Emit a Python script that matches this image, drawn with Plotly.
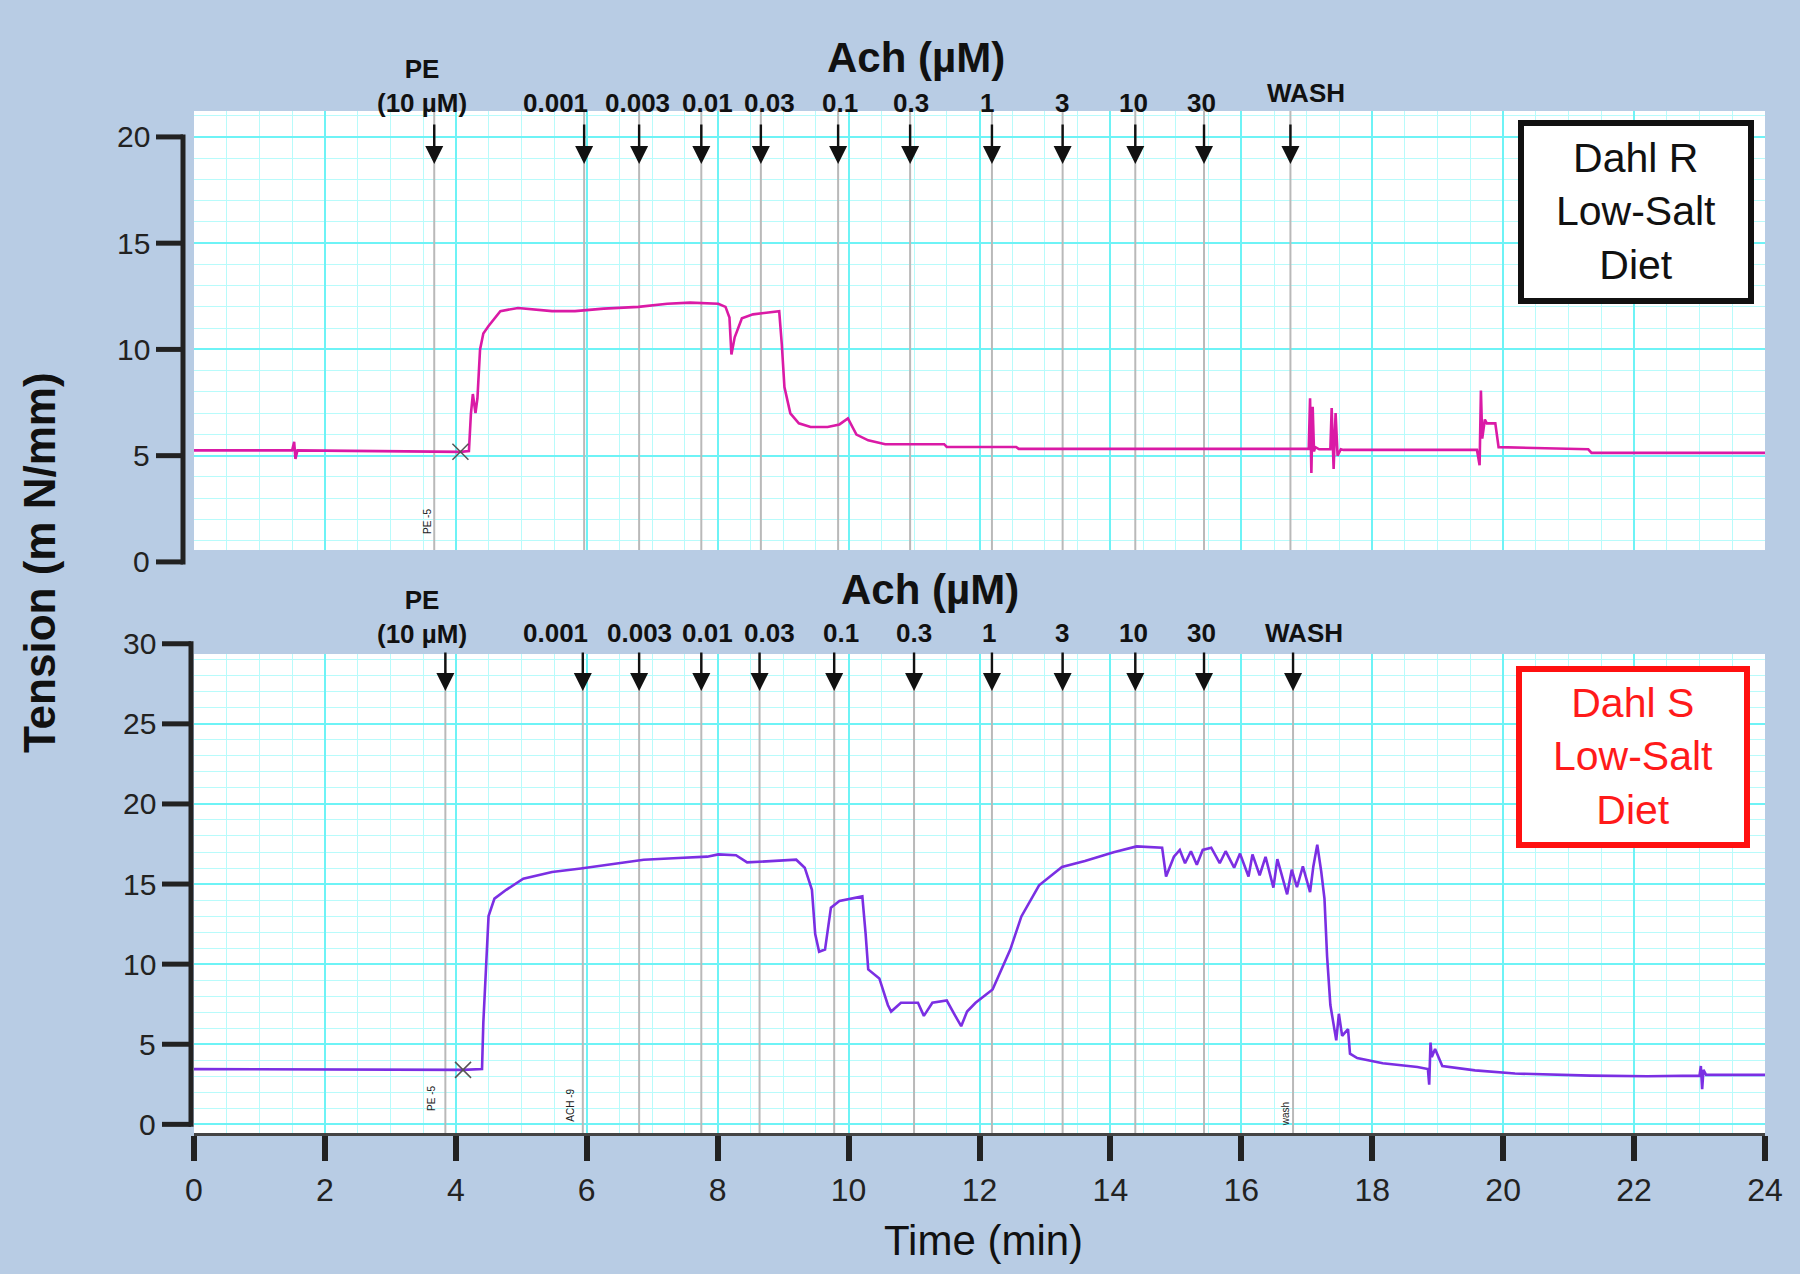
import plotly.graph_objects as go

W, H = 1800, 1274

# ---------------- data ----------------
top_t = [0.0, 1.50, 1.53, 1.55, 1.58, 3.0, 4.07, 4.20, 4.23, 4.26, 4.30, 4.33, 4.37, 4.42, 4.50,
         4.68, 4.95, 5.47, 5.82, 6.26, 6.79, 7.23, 7.58, 8.01, 8.12, 8.18, 8.21, 8.26, 8.37, 8.54,
         8.80, 8.94, 8.98, 9.02, 9.11, 9.24, 9.42, 9.68, 9.86, 9.99, 10.12, 10.30, 10.56, 11.46,
         11.50, 12.56, 12.60, 17.03, 17.05, 17.07, 17.09, 17.11, 17.13, 17.19, 17.36, 17.38, 17.41,
         17.44, 17.47, 17.52, 17.56, 19.60, 19.64, 19.66, 19.68, 19.72, 19.75, 19.88, 19.93, 21.3,
         21.35, 24.0]
top_v = [5.25, 5.25, 5.65, 4.85, 5.25, 5.22, 5.18, 5.22, 6.95, 7.9, 7.0, 7.7, 10.0, 10.75, 11.1,
         11.8, 11.95, 11.8, 11.8, 11.92, 12.0, 12.15, 12.2, 12.15, 12.0, 11.5, 9.76, 10.57, 11.47, 11.65,
         11.74, 11.8, 10.23, 8.23, 6.99, 6.52, 6.35, 6.35, 6.47, 6.75, 5.99, 5.72, 5.54, 5.54,
         5.41, 5.41, 5.32, 5.32, 7.7, 4.19, 7.3, 5.2, 5.4, 5.3, 5.3, 7.24, 4.37,
         7.0, 5.0, 5.3, 5.27, 5.27, 4.55, 8.07, 5.8, 6.7, 6.52, 6.52, 5.4, 5.3,
         5.13, 5.13]

bot_t = [0.0, 4.11, 4.40, 4.42, 4.46, 4.50, 4.59, 4.77, 5.03, 5.47, 5.91, 6.35, 6.87, 7.40, 7.84,
         8.01, 8.28, 8.45, 8.80, 9.20, 9.33, 9.44, 9.49, 9.55, 9.64, 9.73, 9.86, 10.21, 10.26, 10.30,
         10.47, 10.60, 10.65, 10.80, 11.06, 11.15, 11.28, 11.50, 11.63, 11.72, 11.81, 11.94, 12.20,
         12.34, 12.47, 12.64, 12.91, 13.26, 13.61, 14.05, 14.40, 14.79, 14.85, 14.97, 15.06, 15.14,
         15.23, 15.32, 15.41, 15.54, 15.67, 15.76, 15.89, 15.98, 16.11, 16.17, 16.28, 16.37, 16.49,
         16.55, 16.70, 16.77, 16.85, 16.94, 17.05, 17.10, 17.16, 17.22, 17.27, 17.31, 17.36, 17.45,
         17.49, 17.54, 17.63, 17.66, 17.77, 18.16, 18.69, 18.85, 18.87, 18.89, 18.91, 18.96, 19.07,
         19.57, 20.18, 21.33, 22.2, 23.0, 23.02, 23.04, 23.06, 23.1, 24.0]
bot_v = [3.45, 3.40, 3.45, 6.35, 9.67, 13.0, 14.09, 14.64, 15.33, 15.75, 15.97, 16.24, 16.52, 16.63, 16.71,
         16.85, 16.8, 16.35, 16.44, 16.52, 16.02, 14.64, 11.88, 10.77, 10.91, 13.53, 13.94, 14.23, 11.9, 9.67,
         9.11, 7.45, 7.04, 7.59, 7.59, 6.77, 7.59, 7.73, 6.77, 6.13, 7.04, 7.59, 8.42,
         9.67, 10.91, 12.98, 14.92, 16.07, 16.44, 16.99, 17.35, 17.27, 15.47, 16.71, 17.13, 16.3,
         17.05, 16.2, 17.13, 17.27, 16.3, 17.05, 16.02, 16.9, 15.47, 16.85, 15.55, 16.7, 14.78,
         16.55, 14.36, 15.9, 14.8, 16.1, 14.5, 16.1, 17.46, 15.8, 14.09, 10.49, 7.45, 5.24,
         6.9, 5.52, 5.94, 4.41, 4.14, 3.81, 3.58, 3.45, 2.48, 5.1, 4.2, 4.7, 3.64,
         3.37, 3.17, 3.04, 3.0, 3.04, 3.64, 2.2, 3.4, 3.09, 3.09]

dose_labels = ["PE<br>(10 µM)", "0.001", "0.003", "0.01", "0.03", "0.1", "0.3",
               "1", "3", "10", "30", "WASH"]
top_dose_t = [3.67, 5.96, 6.80, 7.75, 8.66, 9.84, 10.94, 12.19, 13.27, 14.38, 15.43, 16.75]
bot_dose_t = [3.84, 5.94, 6.80, 7.75, 8.64, 9.78, 11.00, 12.19, 13.27, 14.38, 15.43, 16.79]
top_label_t = [3.48, 5.52, 6.77, 7.85, 8.79, 9.87, 10.96, 12.12, 13.26, 14.35, 15.39, 16.99]
bot_label_t = [3.49, 5.52, 6.80, 7.85, 8.79, 9.89, 11.00, 12.15, 13.26, 14.36, 15.39, 16.96]

top_mark_t, top_mark_v = [4.07], [5.18]
bot_mark_t, bot_mark_v = [4.11], [3.40]

x_tick_vals = list(range(0, 25, 2))
top_y_ticks = [0, 5, 10, 15, 20]
bot_y_ticks = [0, 5, 10, 15, 20, 25, 30]

panel_titles = ["Dahl R<br>Low-Salt<br>Diet", "Dahl S<br>Low-Salt<br>Diet"]

# ---------------- geometry / style ----------------
FONT = "Liberation Sans, Arial, sans-serif"
BG = "#B8CCE4"
GRID_MAJ = "#6EF3F6"
GRID_MIN = "#B8FBFB"
PL, PR = 194, 1765
TOP_Y = (111, 550)
BOT_Y = (654, 1133)
TOP_RANGE = [0.56, 21.22]
BOT_RANGE = [-0.54, 29.36]


def fx(p):
    return p / W


def fy(p):
    return 1 - p / H


def val_px(v, rng, ypx):
    top, bottom = ypx
    return bottom - (v - rng[0]) / (rng[1] - rng[0]) * (bottom - top)


def event_lines(ts, rng):
    xs, ys = [], []
    for t in ts:
        xs += [t, t, None]
        ys += [rng[0], rng[1], None]
    return xs, ys


fig = go.Figure()
# gray event marker lines (below the recorded traces)
ex, ey = event_lines(top_dose_t, TOP_RANGE)
fig.add_trace(go.Scatter(x=ex, y=ey, mode="lines", xaxis="x", yaxis="y",
                         line=dict(color="#B9B9B9", width=2), hoverinfo="skip"))
ex, ey = event_lines(bot_dose_t, BOT_RANGE)
fig.add_trace(go.Scatter(x=ex, y=ey, mode="lines", xaxis="x2", yaxis="y2",
                         line=dict(color="#B9B9B9", width=2), hoverinfo="skip"))

fig.add_trace(go.Scatter(x=top_t, y=top_v, mode="lines", xaxis="x", yaxis="y",
                         line=dict(color="#DA1AA6", width=2.6), hoverinfo="skip"))
fig.add_trace(go.Scatter(x=bot_t, y=bot_v, mode="lines", xaxis="x2", yaxis="y2",
                         line=dict(color="#7B2FE3", width=2.6), hoverinfo="skip"))
fig.add_trace(go.Scatter(x=top_mark_t, y=top_mark_v, mode="markers", xaxis="x", yaxis="y",
                         marker=dict(symbol="x-thin-open", size=16, color="#555",
                                     line=dict(color="#555", width=1.5))))
fig.add_trace(go.Scatter(x=bot_mark_t, y=bot_mark_v, mode="markers", xaxis="x2", yaxis="y2",
                         marker=dict(symbol="x-thin-open", size=16, color="#555",
                                     line=dict(color="#555", width=1.5))))

grid_common = dict(showgrid=True, gridcolor=GRID_MAJ, gridwidth=2, zeroline=False,
                   showline=False)
xgrid = dict(grid_common, range=[0, 24.0], tick0=0, dtick=2,
             minor=dict(tick0=0, dtick=0.5, showgrid=True, gridcolor=GRID_MIN, gridwidth=1))

fig.update_layout(
    width=W, height=H, autosize=False,
    template="none",
    paper_bgcolor=BG, plot_bgcolor="white",
    margin=dict(l=0, r=0, t=0, b=0),
    showlegend=False,
    font=dict(family=FONT, color="#111"),
    xaxis=dict(xgrid, domain=[fx(PL), fx(PR)], anchor="y", showticklabels=False, ticks=""),
    yaxis=dict(grid_common, domain=[fy(TOP_Y[1]), fy(TOP_Y[0])], anchor="x", range=TOP_RANGE,
               tick0=0, dtick=5, showticklabels=False, ticks="",
               minor=dict(tick0=0, dtick=1, showgrid=True, gridcolor=GRID_MIN, gridwidth=1)),
    xaxis2=dict(xgrid, domain=[fx(PL), fx(PR)], anchor="y2", showticklabels=True,
                tickvals=x_tick_vals, ticks="outside", ticklen=25, tickwidth=6, tickcolor="#222",
                showline=True, linecolor="#444", linewidth=3, ticklabelstandoff=2,
                tickfont=dict(size=32, color="#222", family=FONT)),
    yaxis2=dict(grid_common, domain=[fy(BOT_Y[1]), fy(BOT_Y[0])], anchor="x2", range=BOT_RANGE,
                tick0=0, dtick=5, showticklabels=False, ticks="",
                minor=dict(tick0=0, dtick=1, showgrid=True, gridcolor=GRID_MIN, gridwidth=1)),
)

shapes = []
annotations = []


def note(text, x, y, size, color="#111", xref="paper", yref="paper", **kw):
    d = dict(text=text, xref=xref, yref=yref, x=x, y=y, showarrow=False,
             xanchor="center", yanchor="middle", font=dict(size=size, color=color))
    d.update(kw)
    annotations.append(d)


# black y axes (bracket style)
for ticks, rng, ypx, xline, xtick0, xlab in [
        (top_y_ticks, TOP_RANGE, TOP_Y, 183, 156, 152),
        (bot_y_ticks, BOT_RANGE, BOT_Y, 191, 162, 158)]:
    ytop = val_px(max(ticks), rng, ypx)
    ybot = val_px(min(ticks), rng, ypx)
    shapes.append(dict(type="line", xref="paper", yref="paper", x0=fx(xline), x1=fx(xline),
                       y0=fy(ytop - 2.5), y1=fy(ybot + 2.5), line=dict(color="#222", width=5)))
    for v in ticks:
        yp = val_px(v, rng, ypx)
        shapes.append(dict(type="line", xref="paper", yref="paper", x0=fx(xtick0), x1=fx(xline),
                           y0=fy(yp), y1=fy(yp), line=dict(color="#222", width=5)))
        note(str(v), fx(xlab), fy(yp), 30, "#222", xanchor="right")

# dose labels and arrows
for lab_t, arr_t, xr, lab_y, pe_y, wash_y, tail, tip in [
        (top_label_t, top_dose_t, "x", 103, 86, 93, 123, 164),
        (bot_label_t, bot_dose_t, "x2", 633, 617, 633, 651, 691)]:
    for i, lab in enumerate(dose_labels):
        ly = lab_y
        if i == 0:
            ly = pe_y
        elif lab == "WASH":
            ly = wash_y
        note("<b>" + lab + "</b>", lab_t[i], fy(ly), 26, xref=xr)
        annotations.append(dict(text="", xref=xr, yref="paper", x=arr_t[i], y=fy(tip),
                                showarrow=True, ax=0, ay=-(tip - tail), axref="pixel", ayref="pixel",
                                arrowhead=2, arrowsize=1.5, arrowwidth=2.4, arrowcolor="#111",
                                standoff=0))

# Ach titles
note("<b>Ach (µM)</b>", fx(916), fy(57), 42)
note("<b>Ach (µM)</b>", fx(930), fy(589), 42)

# panel boxes
shapes.append(dict(type="rect", xref="paper", yref="paper", x0=fx(1521), x1=fx(1751),
                   y0=fy(301), y1=fy(123), fillcolor="white", line=dict(color="#111", width=6),
                   layer="above"))
shapes.append(dict(type="rect", xref="paper", yref="paper", x0=fx(1519), x1=fx(1747),
                   y0=fy(845), y1=fy(669), fillcolor="white", line=dict(color="#FF1010", width=6),
                   layer="above"))
note(panel_titles[0], fx(1636), fy(212), 41, "#111")
note(panel_titles[1], fx(1633), fy(757), 41, "#FF1A1A")

# axis titles
note("<b>Tension (m N/mm)</b>", fx(40), fy(563), 44, textangle=-90)
note("Time (min)", fx(984), fy(1240), 42)

# tiny recorder marks
note("PE -5", 3.56, fy(522), 10, "#222", xref="x", textangle=-90)
note("PE -5", 3.62, fy(1098), 10, "#222", xref="x2", textangle=-90)
note("ACH -9", 5.74, fy(1105), 10, "#222", xref="x2", textangle=-90)
note("wash", 16.67, fy(1114), 10, "#222", xref="x2", textangle=-90)

fig.update_layout(shapes=shapes, annotations=annotations)

fig.write_html("out.html", config={"displayModeBar": False},
               post_script="document.body.style.margin='0';document.body.style.overflow='hidden';")
